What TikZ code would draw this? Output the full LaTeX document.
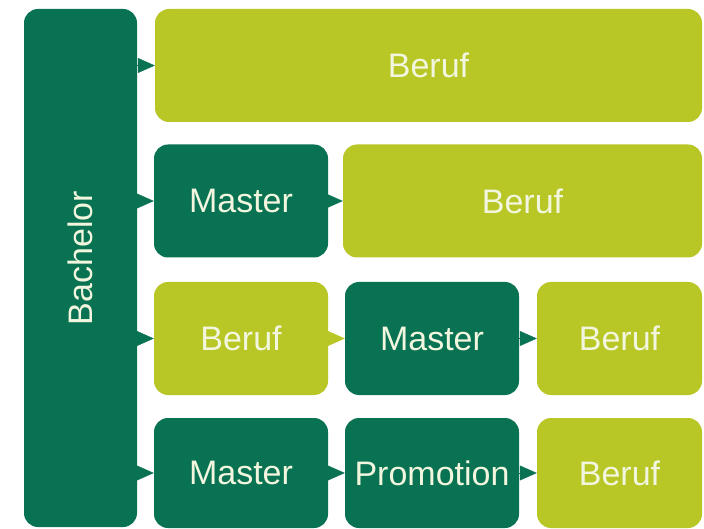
\documentclass[tikz,border=0pt]{standalone}
\usepackage{fontspec}
\setmainfont{Liberation Sans}
\usetikzlibrary{arrows.meta}
\definecolor{dunkel}{RGB}{8,114,83}
\definecolor{hell}{RGB}{184,199,38}
\definecolor{schrift}{RGB}{242,246,222}
\begin{document}
\begin{tikzpicture}[x=1pt, y=-1pt,
    box/.style = {rounded corners=14pt, inner sep=0pt, text=schrift,
        font=\fontsize{34}{40}\selectfont, minimum height=113pt},
    dark/.style = {box, fill=dunkel},
    light/.style = {box, fill=hell},
    tipd/.style = {-{Triangle[length=17pt, width=15pt]}, dunkel, line width=0.4pt},
    tiph/.style = {-{Triangle[length=17pt, width=15pt]}, hell, line width=0.4pt}]

    \fill[white] (0,0) rectangle (704,529);
    \useasboundingbox (0,0) rectangle (704,529);

    \node [dark, minimum width=113pt, minimum height=518pt] (bach) at (80.5, 268) {\rotatebox{90}{\hspace*{20pt}Bachelor}};

    \node [light, minimum width=547pt] (b1) at (428.5, 65.5) {Beruf};

    \node [dark, minimum width=174pt] (m2) at (241, 201) {Master};
    \node [light, minimum width=359pt] (b2) at (522.5, 201) {Beruf};

    \node [light, minimum width=174pt] (b3) at (241, 338.5) {Beruf};
    \node [dark, minimum width=174pt] (m3) at (432, 338.5) {Master};
    \node [light, minimum width=165pt] (b3r) at (619.5, 338.5) {Beruf};

    \node [dark, minimum width=174pt, minimum height=110pt] (m4) at (241, 473) {Master};
    \node [dark, minimum width=174pt, minimum height=110pt] (p4) at (432, 473) {Promotion};
    \node [light, minimum width=165pt, minimum height=110pt] (b4) at (619.5, 473) {Beruf};

    \draw[tipd] (bach.east |- b1) to (b1);
    \draw[tipd] (bach.east |- m2) to (m2);
    \draw[tipd] (bach.east |- b3) to (b3);
    \draw[tipd] (bach.east |- m4) to (m4);
    \draw[tipd] (m2) to (b2);
    \draw[tiph] (b3) to (m3);
    \draw[tipd] (m3) to (b3r);
    \draw[tipd] (m4) to (p4);
    \draw[tipd] (p4) to (b4);

\end{tikzpicture}
\end{document}
